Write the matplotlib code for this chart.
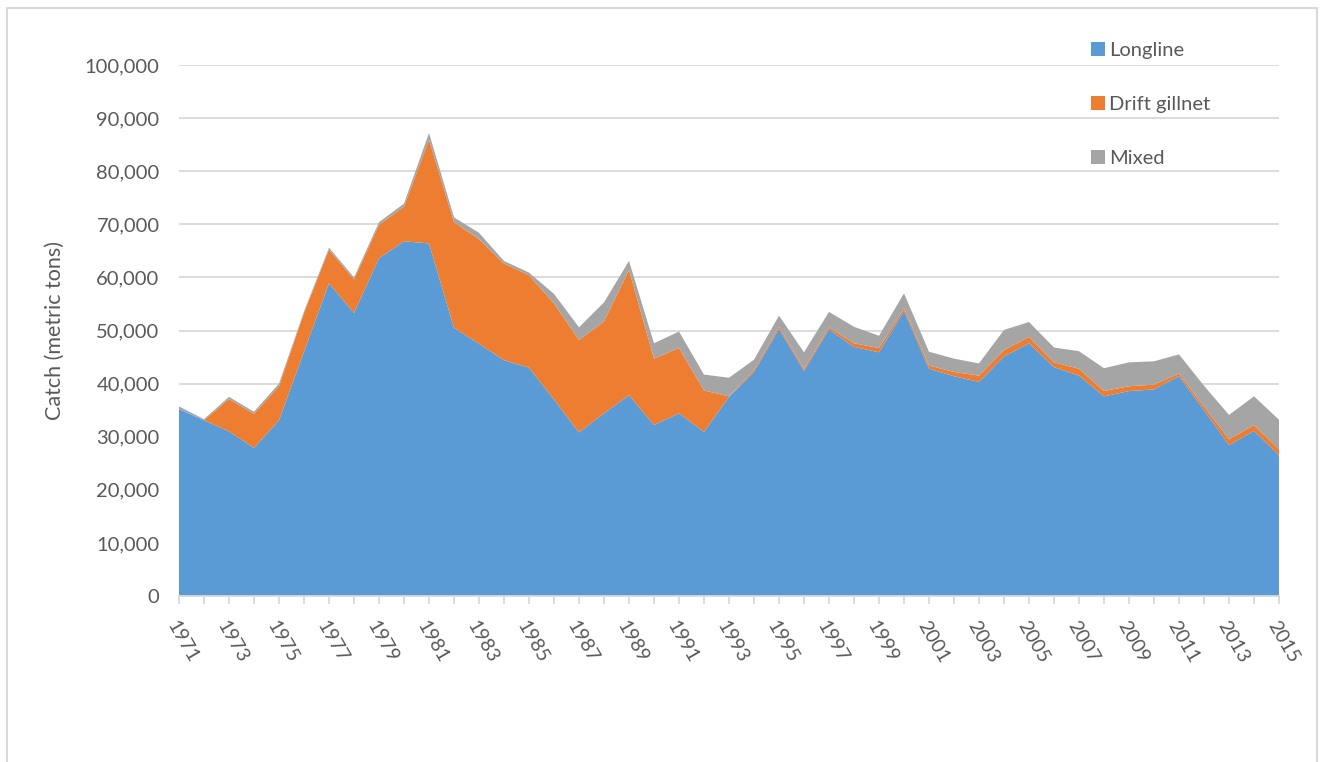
import numpy as np
import matplotlib.pyplot as plt
from matplotlib.patches import Rectangle

years = list(range(1971, 2016))
longline = [35200, 33100, 31000, 27900, 33100, 46000, 58900, 53300, 63600, 66800,
            66400, 50500, 47500, 44400, 43000, 37000, 30800, 34400, 37800, 32200,
            34400, 30900, 37500, 42200, 50300, 42400, 50200, 46900, 45900, 53700,
            42800, 41400, 40300, 45100, 47600, 43100, 41500, 37600, 38600, 38900,
            41400, 35000, 28400, 31100, 26500]
gillnet = [0, 0, 6100, 6400, 6400, 7300, 6300, 6300, 6300, 6500,
           19500, 19900, 19700, 18200, 17400, 18100, 17400, 17300, 23600, 12500,
           12300, 7800, 100, 400, 400, 400, 400, 700, 800, 500,
           600, 800, 1200, 1200, 1200, 900, 1300, 1000, 900, 900,
           500, 700, 1100, 1100, 1100]
mixed = [500, 200, 400, 400, 500, 300, 400, 400, 500, 600,
         1300, 900, 1200, 500, 500, 1800, 2400, 3600, 1700, 2900,
         3100, 3000, 3500, 1900, 2100, 3100, 2900, 3100, 2300, 2800,
         2600, 2500, 2300, 3800, 2800, 2800, 3300, 4300, 4500, 4400,
         3600, 3900, 4600, 5400, 5600]

text_col = '#595959'
grid_col = '#D9D9D9'
plt.rcParams['font.family'] = ['Lato', 'DejaVu Sans']

fig = plt.figure(figsize=(13.21, 7.62), dpi=100)
ax = fig.add_axes([179 / 1321, 1 - 596 / 762, 1100 / 1321, 531 / 762])

ax.stackplot(years, longline, gillnet, mixed,
             colors=['#5B9BD5', '#ED7D31', '#A5A5A5'],
             labels=['Longline', 'Drift gillnet', 'Mixed'], zorder=2)

ax.set_xlim(1971, 2015)
ax.set_ylim(0, 100000)
ax.set_yticks(np.arange(0, 100001, 10000))
ax.set_yticklabels([f'{v:,}' for v in range(0, 100001, 10000)])
ax.yaxis.grid(True, color=grid_col, linewidth=1.3, zorder=0)
ax.set_axisbelow(True)
ax.tick_params(axis='y', length=0, pad=14, labelsize=14.5, labelcolor=text_col)

ax.set_xticks(years)
ax.set_xticklabels([str(y) if (y - 1971) % 2 == 0 else '' for y in years],
                   rotation=-60, ha='left', va='top', rotation_mode='anchor')
ax.tick_params(axis='x', length=6, width=1.3, color=grid_col, pad=10,
               labelsize=14, labelcolor=text_col)

for s in ['top', 'right', 'left']:
    ax.spines[s].set_visible(False)
ax.spines['bottom'].set_color(grid_col)
ax.spines['bottom'].set_linewidth(1.3)

ax.set_ylabel('Catch (metric tons)', fontsize=15.5, color=text_col, labelpad=14)

ax.legend(loc='upper left', bbox_to_anchor=(1073 / 1321, 1 - 24 / 762),
          bbox_transform=fig.transFigure, frameon=False, fontsize=14.5,
          labelcolor=text_col, handlelength=0.7, handleheight=0.7,
          handletextpad=0.2, labelspacing=1.82)

# chart border
fig.patches.append(Rectangle((6.5 / 1321, -0.05), 1310 / 1321, 1.05 - 7.5 / 762,
                             transform=fig.transFigure, fill=False,
                             edgecolor=grid_col, linewidth=1.5))

plt.savefig('out.png', dpi=100)
